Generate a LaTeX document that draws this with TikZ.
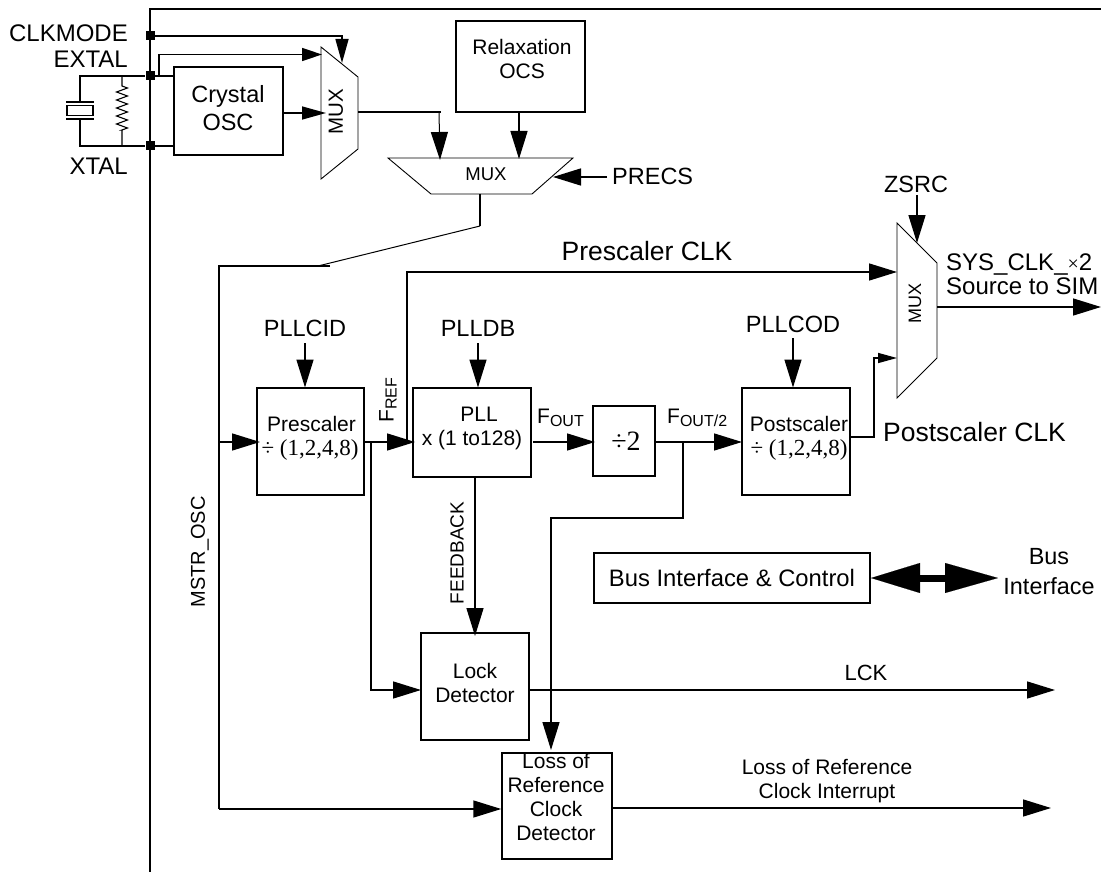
\documentclass[tikz,border=0pt]{standalone}
\usepackage{fontspec}
\setmainfont{Liberation Sans}
\newfontfamily\timesfont{Liberation Serif}
\usetikzlibrary{arrows.meta,decorations.pathmorphing}
\newcommand{\subtxt}[1]{{\fontsize{16}{16}\selectfont\raisebox{-3pt}{#1}}}
\newcommand{\divtxt}{{\timesfont\fontsize{23}{24}\selectfont ÷ (1,2,4,8)}}
\tikzset{
  sigline/.style={line width=1.5pt},
  muxline/.style={line width=.9pt},
  bigarrow/.style={sigline,-{Triangle[length=28pt,width=17pt]}},
  midarrow/.style={sigline,-{Triangle[length=24pt,width=13pt]}},
  tinyarrow/.style={sigline,-{Triangle[length=19pt,width=10pt]}},
  blockbox/.style={draw,line width=1.5pt,inner sep=0pt,align=center,font=\fontsize{21}{24}\selectfont},
  lbl/.style={inner sep=0pt,align=center,font=\fontsize{24}{24}\selectfont},
  lblsmall/.style={inner sep=0pt,align=center,font=\fontsize{21}{24}\selectfont},
  lblbig/.style={inner sep=0pt,font=\fontsize{26.5}{28}\selectfont},
  padbox/.style={fill=black,inner sep=0pt,minimum size=9pt},
}
\begin{document}
\begin{tikzpicture}[x=1pt,y=-1pt]
\useasboundingbox (0,0) rectangle (1101,872);
% chip edge
\draw[sigline] (150,872)--(150,9)--(1101,9);
\foreach \name/\y in {padmode/36,padextal/76,padxtal/146}\node[padbox] (\name) at (150,\y){};
\node[lbl,anchor=east] (clkmode) at (128,33){CLKMODE};
\node[lbl,anchor=east] (extal) at (128,59){EXTAL};
\node[lbl,anchor=east] (xtal) at (128,166){XTAL};
% blocks
\node[blockbox,minimum width=109pt,minimum height=88pt] (crystal) at (228.5,111){};
\node[lblsmall,font=\fontsize{23.5}{28}\selectfont] (crystaltxt) at (228,108){Crystal\\OSC};
\node[blockbox,minimum width=129pt,minimum height=91pt] (relax) at (520.5,66.5){};
\node[lblsmall] (relaxtxt) at (522,59){Relaxation\\OCS};
\node[blockbox,minimum width=107pt,minimum height=107pt] (prescaler) at (310.5,441.5){};
\node[lblsmall] (prescalertxt) at (310,438){\hspace*{3pt}Prescaler\\\divtxt};
\node[blockbox,minimum width=118pt,minimum height=89pt] (pll) at (472,432.5){};
\node[lblsmall] (plltxt) at (472,428){\hspace*{14pt}PLL\\x (1 to128)};
\node[blockbox,minimum width=62pt,minimum height=70pt,font=\timesfont\fontsize{28}{28}\selectfont] (divtwo) at (624,441){\hspace*{4pt}÷2};
\node[blockbox,minimum width=108pt,minimum height=107pt] (postscaler) at (796,441.5){};
\node[lblsmall] (postscalertxt) at (799,438){Postscaler\\\divtxt};
\node[blockbox,minimum width=108pt,minimum height=107pt] (lock) at (475,686.5){};
\node[lblsmall] (locktxt) at (475,683){Lock\\Detector};
\node[blockbox,minimum width=110pt,minimum height=106pt] (loss) at (557,806){};
\node[lblsmall] (losstxt) at (556,797){Loss of\\Reference\\Clock\\Detector};
\node[blockbox,minimum width=276pt,minimum height=50pt,font=\fontsize{23.8}{24}\selectfont] (busctl) at (732,578){Bus Interface \& Control};
% muxes
\coordinate (muxa1) at (321,47); \coordinate (muxa2) at (358,77); \coordinate (muxa3) at (358,149); \coordinate (muxa4) at (321,179);
\coordinate (muxb1) at (388,158); \coordinate (muxb2) at (573,158); \coordinate (muxb3) at (532,194); \coordinate (muxb4) at (431,194);
\coordinate (muxc1) at (897,223); \coordinate (muxc2) at (937,263); \coordinate (muxc3) at (937,358); \coordinate (muxc4) at (897,398);
\foreach \m in {muxa,muxb,muxc}\draw[muxline] (\m1)--(\m2)--(\m3)--(\m4)--cycle;
\node[rotate=90,inner sep=0pt,font=\fontsize{20.5}{20}\selectfont] (muxatxt) at (336,112){MUX};
\node[inner sep=0pt,font=\fontsize{18.5}{20}\selectfont] (muxbtxt) at (486,174){MUX};
\node[rotate=90,inner sep=0pt,font=\fontsize{18}{20}\selectfont] (muxctxt) at (915,303){MUX};
% crystal and resistor
\coordinate (wiretl) at (80,76); \coordinate (wirebl) at (80,146);
\coordinate (plateup) at (80,102); \coordinate (platedn) at (80,119);
\coordinate (restop) at (122,76); \coordinate (resbot) at (122,146);
\node[draw,line width=1.5pt,inner sep=0pt,minimum width=26pt,minimum height=10pt] (quartz) at (80,110.5){};
\draw[sigline] (plateup)--(wiretl)--(padextal) (platedn)--(wirebl)--(padxtal);
\draw[sigline] (66,102)--(94,102) (66,119)--(94,119);
\draw[line width=1.1pt] (restop)--(122,86) decorate[decoration={zigzag,segment length=8pt,amplitude=5.5pt}]{--(122,130)}--(resbot);
\draw[sigline] (padextal)--(crystal.west |- padextal);
\draw[sigline] (padxtal)--(crystal.west |- padxtal);
% inputs of first mux
\coordinate (extalup) at (159,76); \coordinate (extalcnr) at (159,54.5); \coordinate (extalend) at (322,54.5);
\coordinate (modecnr) at (342,36); \coordinate (modeend) at (342,63);
\draw[sigline,-{Triangle[length=20pt,width=13pt]}] (extalup)--(extalcnr)--(extalend);
\draw[midarrow] (padmode)--(modecnr)--(modeend);
\coordinate (crysend) at (326,113);
\draw[midarrow] (crystal.east |- crysend)--(crysend);
% second mux
\coordinate (muxaout) at (358,112); \coordinate (muxacnr) at (441,112); \coordinate (muxbina) at (440,160);
\coordinate (muxbinb) at (519,159); \coordinate (relaxout) at (519,112);
\draw[sigline] (muxaout)--(muxacnr);
\draw[line width=1pt,-{Triangle[length=28pt,width=17pt]}] (439,112)--(muxbina);
\draw[bigarrow] (relaxout)--(muxbinb);
\coordinate (precsin) at (607,177); \coordinate (precsend) at (553,177);
\draw[sigline,-{Triangle[length=28pt,width=17pt]}] (precsin)--(precsend);
\node[lbl,anchor=west,font=\fontsize{23.5}{24}\selectfont] (precs) at (612,176){PRECS};
% master clock line
\coordinate (muxbout) at (480,194); \coordinate (muxbkink) at (480,226); \coordinate (mstrkink) at (318,266);
\coordinate (mstrtop) at (219,266); \coordinate (mstrend) at (330,266); \coordinate (mstrbot) at (219,809);
\draw[sigline] (muxbout)--(muxbkink);
\draw[line width=1pt] (muxbkink)--(mstrkink);
\draw[sigline] (mstrend)--(mstrtop)--(mstrbot);
\draw[bigarrow] (mstrbot)--(loss.west |- mstrbot);
\coordinate (mstrtap) at (219,442); \coordinate (mstrin) at (260,442);
\draw[bigarrow] (mstrtap)--(mstrin);
\node[rotate=90,inner sep=0pt,font=\fontsize{20}{20}\selectfont] (mstrlbl) at (200,552){MSTR\_OSC};
% top inputs
\foreach \name/\x/\y/\txt/\top in {cid/305/328/PLLCID/343,db/478/328/PLLDB/343,cod/793/324/PLLCOD/338}{
  \node[lbl,font=\fontsize{23.5}{24}\selectfont] (\name) at (\x,\y){\txt};
  \coordinate (\name top) at (\x,\top);
  \coordinate (\name end) at (\x,387.5);
  \draw[bigarrow] (\name top)--(\name end);
}
% prescaler outputs
\coordinate (fref) at (415,442); \coordinate (freftap) at (407,442); \coordinate (frefcnr) at (407,272); \coordinate (prescend) at (897,272);
\draw[bigarrow] (prescaler.east |- fref)--(fref);
\draw[bigarrow] (freftap)--(frefcnr)--(prescend);
\coordinate (locktap) at (371,442); \coordinate (lockcnr) at (371,690); \coordinate (lockin) at (421,690);
\draw[bigarrow] (locktap)--(lockcnr)--(lockin);
\node[lblbig,anchor=center] (presclk) at (647,251){Prescaler CLK};
\node[rotate=90,inner sep=0pt,font=\fontsize{21}{20}\selectfont] (freflbl) at (388,400){F\subtxt{REF}};
% feedback
\coordinate (fbend) at (475,636);
\draw[bigarrow] (pll.south -| fbend)--(fbend);
\node[rotate=90,inner sep=0pt,font=\fontsize{19}{20}\selectfont] (fblbl) at (457,553){FEEDBACK};
% pll to postscaler
\coordinate (foutst) at (533,442); \coordinate (foutend) at (595,442);
\draw[bigarrow] (foutst)--(foutend);
\node[inner sep=0pt,anchor=west,font=\fontsize{21}{20}\selectfont] (foutlbl) at (537,418){F\subtxt{OUT}};
\coordinate (ftwost) at (655,442); \coordinate (ftwoend) at (742,442);
\draw[bigarrow] (ftwost)--(ftwoend);
\node[inner sep=0pt,anchor=west,font=\fontsize{21}{20}\selectfont] (ftwolbl) at (667,418){F\subtxt{OUT/2}};
\coordinate (ftwotap) at (683,442); \coordinate (ftwocnr) at (683,518); \coordinate (losscnr) at (551,518); \coordinate (lossin) at (551,750);
\draw[bigarrow] (ftwotap)--(ftwocnr)--(losscnr)--(lossin);
% output mux
\coordinate (postout) at (850,437); \coordinate (postmid) at (874,437); \coordinate (postup) at (874,358); \coordinate (postend) at (897,358);
\draw[tinyarrow] (postout)--(postmid)--(postup)--(postend);
\node[lblbig,anchor=west] (postclk) at (883,432){Postscaler CLK};
\coordinate (zsrctop) at (917,195); \coordinate (zsrcend) at (917,243);
\draw[bigarrow] (zsrctop)--(zsrcend);
\node[lbl,font=\fontsize{23.5}{24}\selectfont] (zsrc) at (916,184){ZSRC};
\coordinate (sysst) at (937,307); \coordinate (sysend) at (1101,307);
\draw[bigarrow] (sysst)--(sysend);
\node[inner sep=0pt,align=left,anchor=west,font=\fontsize{24}{24}\selectfont] (syslbl) at (946,274){SYS\_CLK\_{\timesfont\fontsize{20}{16}\selectfont ×}2\\Source to SIM};
% bus
\coordinate (busleft) at (871,578); \coordinate (busmidl) at (920,578); \coordinate (busmidr) at (945,578); \coordinate (busright) at (998,578);
\draw[line width=7pt] (busmidl)--(busmidr);
\draw[line width=.1pt,-{Triangle[length=49pt,width=30pt]}] (busmidl)--(busleft);
\draw[line width=.1pt,-{Triangle[length=53pt,width=30pt]}] (busmidr)--(busright);
\node[lblsmall,font=\fontsize{23.4}{30}\selectfont] (buslbl) at (1049,572){Bus\\Interface};
% outputs
\coordinate (lckend) at (1055,690); \coordinate (lossend) at (1051,808);
\draw[bigarrow] (lock.east |- lckend)--(lckend);
\draw[bigarrow] (loss.east |- lossend)--(lossend);
\node[lblsmall,font=\fontsize{22}{24}\selectfont] (lck) at (866,673){LCK};
\node[lblsmall] (intlbl) at (827,781){Loss of Reference\\Clock Interrupt};
\end{tikzpicture}
\end{document}
